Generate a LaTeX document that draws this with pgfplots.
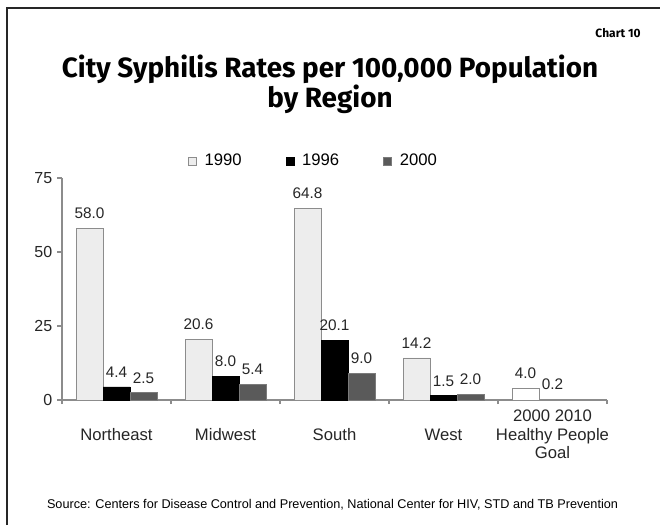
\documentclass[border=0pt]{standalone}
\usepackage{pgfplots}
\pgfplotsset{compat=1.18}
\usepackage{fontspec}
\setmainfont{Liberation Sans}
\newfontfamily\titlefont{Fira Sans}
\definecolor{c90}{HTML}{EDEDED}
\definecolor{c00}{HTML}{5A5A5A}
\definecolor{axgray}{HTML}{8C8C8C}
\pgfplotsset{sqleg/.style={legend image code/.code={\draw[##1] (0pt,-3pt) rectangle (6pt,3pt);}}}
\begin{document}
\begin{tikzpicture}[x=1pt,y=1pt]
\useasboundingbox (0,0) rectangle (495,393.75);
\fill[white] (0,0) rectangle (495,393.75);
\draw[line width=1.9pt, black!85] (5.25,0) -- (5.25,387.75) -- (495,387.75);
\node[font=\titlefont\bfseries\fontsize{20.9}{24}\selectfont, anchor=base] at (247.5,335.25) {City Syphilis Rates per 100,000 Population};
\node[font=\titlefont\bfseries\fontsize{20.9}{24}\selectfont, anchor=base] at (247.5,312.75) {by Region};
\node[font=\titlefont\bfseries\fontsize{9}{10}\selectfont, anchor=east] at (484,369) {Chart 10};
\node[font=\fontsize{9.5}{11}\selectfont] at (249.4,15) {Source: Centers for Disease Control and Prevention, National Center for HIV, STD and TB Prevention};
\begin{axis}[
  at={(46.5pt,93.75pt)}, anchor=south west, scale only axis,
  width=408.75pt, height=166.5pt,
  xmin=-0.5, xmax=4.5, ymin=0, ymax=75,
  axis x line*=bottom, axis y line*=left,
  axis line style={axgray, line width=0.8pt},
  every tick/.style={axgray, line width=0.8pt},
  tick align=outside,
  ytick={0,25,50,75},
  major tick length=3.75pt, minor tick length=3pt,
  xtick={0,1,2,3,4},
  major x tick style={draw=none},
  minor xtick={-0.5,0.5,1.5,2.5,3.5,4.5},
  xticklabels={{\vphantom{2000}\\Northeast},{\vphantom{2000}\\Midwest},{\vphantom{2000}\\South},{\vphantom{2000}\\West},{2000 2010\\Healthy People\\Goal}},
  xticklabel style={align=center, font=\fontsize{12.5}{14}\selectfont, text=black!85},
  yticklabel style={font=\fontsize{12}{14}\selectfont, text=black!85},
  /pgf/number format/assume math mode=true,
  nodes near coords={\pgfmathprintnumber[fixed,zerofill,precision=1]{\pgfplotspointmeta}},
  every node near coord/.append style={font=\fontsize{11.5}{13}\selectfont, text=black!85, yshift=3.5pt},
  legend style={at={(0.462,1.077)}, anchor=center, draw=none, fill=none,
    legend columns=3, font=\fontsize{12.5}{14}\selectfont,
    /tikz/every even column/.append style={column sep=31pt},
    /tikz/every odd column/.append style={column sep=4pt}},
  clip=false,
]
\addplot[ybar, bar width=20.25pt, bar shift=-20.25pt, fill=c90, draw=axgray, sqleg,
  every node near coord/.append style={xshift=-20.25pt}]
  coordinates {(0,58.0) (1,20.6) (2,64.8) (3,14.2)};
\addlegendentry{1990}
\addplot[ybar, bar width=20.25pt, bar shift=0pt, fill=black, draw=black, sqleg]
  coordinates {(0,4.4) (1,8.0) (2,20.1) (3,1.5)};
\addlegendentry{1996}
\addplot[ybar, bar width=20.25pt, bar shift=20.25pt, fill=c00, draw=c00!80, sqleg,
  every node near coord/.append style={xshift=20.25pt}]
  coordinates {(0,2.5) (1,5.4) (2,9.0) (3,2.0)};
\addlegendentry{2000}
\addplot[ybar, forget plot, bar width=20.25pt, bar shift=-20.25pt, fill=white, draw=axgray,
  every node near coord/.append style={xshift=-20.25pt}]
  coordinates {(4,4.0)};
\addplot[ybar, forget plot, bar width=20.25pt, bar shift=0pt, fill=white, draw=axgray]
  coordinates {(4,0.2)};
\end{axis}
\end{tikzpicture}
\end{document}
